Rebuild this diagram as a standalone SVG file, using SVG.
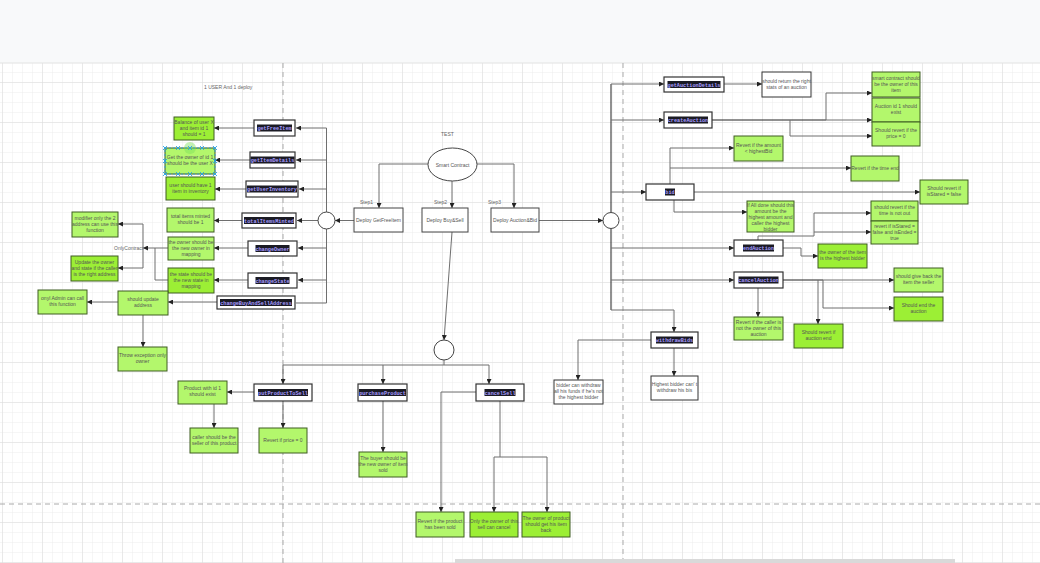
<svg xmlns="http://www.w3.org/2000/svg" width="1040" height="563" viewBox="0 0 1040 563">
<defs>
<pattern id="gmin" width="10" height="10" patternUnits="userSpaceOnUse" x="3" y="3"><path d="M10,0 V10 M0,10 H10" fill="none" stroke="#ececec" stroke-width="1"/></pattern>
<pattern id="gmaj" width="40" height="40" patternUnits="userSpaceOnUse" x="3" y="3"><path d="M40,0 V40 M0,40 H40" fill="none" stroke="#dcdcdc" stroke-width="1"/></pattern>
<marker id="arr" viewBox="0 0 6 6" refX="6" refY="3" markerWidth="5" markerHeight="5" markerUnits="userSpaceOnUse" orient="auto"><path d="M0,0 L6,3 L0,6 z" fill="#222"/></marker>
<style>
.fn{fill:#fff;stroke:#333;stroke-width:1.2}
.cbg{fill:#1b1b24}
.ct{font-family:"Liberation Mono","DejaVu Sans Mono",monospace;font-weight:bold;font-size:5.2px;fill:#a79cff;text-anchor:middle}
.nl{fill:#b3f76c;stroke:#3f5d22;stroke-width:1}
.nb{fill:#9cef35;stroke:#3f5d22;stroke-width:1}
.nw{fill:#fff;stroke:#333;stroke-width:1}
.nt{font-family:"Liberation Sans",Arial,sans-serif;font-size:5px;fill:#555;text-anchor:middle}
.lb{font-family:"Liberation Sans",Arial,sans-serif;font-size:5px;fill:#666}
.c{fill:none;stroke:#6e6e6e;stroke-width:1}
.ca{fill:none;stroke:#6e6e6e;stroke-width:1;marker-end:url(#arr)}
.cd{fill:none;stroke:#222;stroke-width:1}
.sh{fill:#fff;stroke:#444;stroke-width:1}
.pg{fill:none;stroke:#aaa;stroke-width:1;stroke-dasharray:5,4}
</style>
</defs>
<rect x="0" y="0" width="1040" height="563" fill="#fff"/>
<rect x="0" y="0" width="1040" height="63" fill="#f8f9fa"/>
<rect x="0" y="63" width="1040" height="500" fill="url(#gmin)"/>
<rect x="0" y="63" width="1040" height="500" fill="url(#gmaj)"/>
<line x1="0" y1="63" x2="1040" y2="63" stroke="#e2e2e2"/>
<path class="pg" d="M283,63 V563 M623,63 V563 M0,504 H1040"/>
<rect x="455" y="559" width="500" height="4" fill="#d9d9d9"/>

<text class="lb" x="204" y="89" fill="#777">1 USER  And 1 deploy</text>
<text class="lb" x="441" y="136">TEST</text>
<text class="lb" x="360" y="204">Step1</text>
<text class="lb" x="434" y="204">Step2</text>
<text class="lb" x="488" y="204">Step3</text>
<text class="lb" x="114" y="250">OnlyContract</text>

<g id="connectors">
<path class="ca" d="M428,164 H379 V208"/>
<path class="ca" d="M452,181 V208"/>
<path class="ca" d="M477,164 H514 V208"/>
<path class="ca" d="M354,220.5 H335"/>
<path class="c" d="M326.5,212 V128 M326.5,229 V303 H296"/>
<path class="ca" d="M326.5,128 H296"/>
<path class="ca" d="M326.5,160 H296"/>
<path class="ca" d="M326.5,189 H299"/>
<path class="ca" d="M318,220.5 H297"/>
<path class="ca" d="M326.5,248 H298"/>
<path class="ca" d="M326.5,280 H298"/>
<path class="ca" d="M254,128 H214"/>
<path class="ca" d="M250,160 H215"/>
<path class="ca" d="M246,189 H215"/>
<path class="ca" d="M242,220.5 H214"/>
<path class="ca" d="M248,248 H214"/>
<path class="ca" d="M248,280 H214"/>
<path class="ca" d="M217,302 H168"/>
<path class="ca" d="M168,248 H143"/>
<path class="c" d="M168,280 H155 V248"/>
<path class="ca" d="M143,248 V224 H118"/>
<path class="ca" d="M143,248 V268 H118"/>
<path class="ca" d="M118,302 H87"/>
<path class="ca" d="M143,315 V347"/>
<path class="ca" d="M452,232 L444,340"/>
<path class="c" d="M444,360 V365 H283 M444,365 H489"/>
<path class="ca" d="M283,365 V384"/>
<path class="ca" d="M383,365 V384"/>
<path class="ca" d="M489,365 V384"/>
<path class="ca" d="M254,392 H227"/>
<path class="ca" d="M214,404 V428"/>
<path class="ca" d="M283,401 V428"/>
<path class="ca" d="M383,401 V452"/>
<path class="ca" d="M476,392 H441 V512"/>
<path class="c" d="M500,401 V457"/>
<path class="ca" d="M500,457 H494 V512"/>
<path class="ca" d="M500,457 H547 V512"/>
<path class="ca" d="M539,220.5 H603"/>
<path class="cd" d="M611,84 V212 M611,229 V310"/>
<path class="ca" d="M611,310 H674 V332"/>
<path class="ca" d="M611,84 H664"/>
<path class="ca" d="M611,120 H664"/>
<path class="ca" d="M611,192 H646"/>
<path class="ca" d="M611,248 H734"/>
<path class="ca" d="M611,280 H734"/>
<path class="ca" d="M724,84 H762"/>
<path class="cd" d="M712,120 H826"/>
<path class="ca" d="M826,120 H872"/>
<path class="ca" d="M826,120 V93 H872"/>
<path class="ca" d="M790,120 V136 H872"/>
<path class="ca" d="M670,184 V148 H734"/>
<path class="ca" d="M670,168 H851"/>
<path class="ca" d="M694,192 H920"/>
<path class="ca" d="M674,200 V212 H747"/>
<path class="ca" d="M758,240 V236 H814 V232 H871"/>
<path class="ca" d="M814,232 V213 H871"/>
<path class="ca" d="M783,248 H801 V256 H818"/>
<path class="cd" d="M783,280 H823"/>
<path class="ca" d="M823,280 H894"/>
<path class="ca" d="M818,280 V324"/>
<path class="ca" d="M823,280 V308 H894"/>
<path class="ca" d="M758,288 V317"/>
<path class="ca" d="M651,340 H578 V380"/>
<path class="ca" d="M674,348 V376"/>
</g>

<g id="smart-contract"><ellipse class="sh" cx="452.5" cy="164.5" rx="24.5" ry="16.5"/><text class="nt" x="452.5" y="166.5" fill="#555">Smart Contract</text></g>
<g id="deploy-getfreeitem"><rect class="sh" x="354" y="208" width="49" height="24"/><text class="nt" x="378.5" y="222">Deploy GetFreeItem</text></g>
<g id="deploy-buysell"><rect class="sh" x="422" y="208" width="46" height="24"/><text class="nt" x="445" y="222">Deploy Buy&amp;Sell</text></g>
<g id="deploy-auctionbid"><rect class="sh" x="491" y="208" width="48" height="24"/><text class="nt" x="515" y="222">Deploy Auction&amp;Bid</text></g>
<g id="hub-left"><circle class="sh" cx="326.5" cy="220.5" r="8.5"/></g>
<g id="hub-center"><circle class="sh" cx="444" cy="350" r="10"/></g>
<g id="hub-right"><circle class="sh" cx="611" cy="220.5" r="8"/></g>

<g id="fn-getFreeItem"><rect class="fn" x="254" y="120" width="41" height="16"/><rect class="cbg" x="257" y="124.5" width="35" height="7"/><text class="ct" x="274.5" y="130">getFreeItem</text></g>
<g id="fn-getItemDetails"><rect class="fn" x="250" y="152" width="45" height="16"/><rect class="cbg" x="250.5" y="156.5" width="44" height="7"/><text class="ct" x="272.5" y="162">getItemDetails</text></g>
<g id="fn-getUserInventory"><rect class="fn" x="246" y="181" width="52" height="16"/><rect class="cbg" x="247" y="185.5" width="50" height="7"/><text class="ct" x="272" y="191">getUserInventory</text></g>
<g id="fn-totalItemsMinted"><rect class="fn" x="242" y="213" width="54" height="15"/><rect class="cbg" x="244" y="217" width="50" height="7"/><text class="ct" x="269" y="222.5">totalItemsMinted</text></g>
<g id="fn-changeOwner"><rect class="fn" x="248" y="241" width="49" height="15"/><rect class="cbg" x="255.5" y="245" width="34" height="7"/><text class="ct" x="272.5" y="250.5">changeOwner</text></g>
<g id="fn-changeState"><rect class="fn" x="248" y="273" width="49" height="15"/><rect class="cbg" x="255.5" y="277" width="34" height="7"/><text class="ct" x="272.5" y="282.5">changeState</text></g>
<g id="fn-changeBuyAndSellAddress"><rect class="fn" x="217" y="296" width="78" height="13"/><rect class="cbg" x="220" y="299" width="72" height="7"/><text class="ct" x="256" y="304.5">changeBuyAndSellAddress</text></g>
<g id="fn-putProductToSell"><rect class="fn" x="254" y="384" width="58" height="17"/><rect class="cbg" x="258" y="389" width="50" height="7"/><text class="ct" x="283" y="394.5">putProductToSell</text></g>
<g id="fn-purchaseProduct"><rect class="fn" x="358" y="384" width="49" height="17"/><rect class="cbg" x="359" y="389" width="47" height="7"/><text class="ct" x="382.5" y="394.5">purchaseProduct</text></g>
<g id="fn-cancelSell"><rect class="fn" x="476" y="384" width="48" height="17"/><rect class="cbg" x="484.5" y="389" width="31" height="7"/><text class="ct" x="500" y="394.5">cancelSell</text></g>
<g id="fn-getAuctionDetails"><rect class="fn" x="664" y="77" width="60" height="15"/><rect class="cbg" x="667.5" y="81" width="53" height="7"/><text class="ct" x="694" y="86.5">getAuctionDetails</text></g>
<g id="fn-createAuction"><rect class="fn" x="664" y="112" width="48" height="16"/><rect class="cbg" x="668" y="116.5" width="40" height="7"/><text class="ct" x="688" y="122">createAuction</text></g>
<g id="fn-bid"><rect class="fn" x="646" y="184" width="48" height="16"/><rect class="cbg" x="665" y="188.5" width="10" height="7"/><text class="ct" x="670" y="194">bid</text></g>
<g id="fn-endAuction"><rect class="fn" x="734" y="240" width="49" height="16"/><rect class="cbg" x="743" y="244.5" width="31" height="7"/><text class="ct" x="758.5" y="250">endAuction</text></g>
<g id="fn-cancelAuction"><rect class="fn" x="734" y="272" width="49" height="16"/><rect class="cbg" x="738.5" y="276.5" width="40" height="7"/><text class="ct" x="758.5" y="282">cancelAuction</text></g>
<g id="fn-withdrawBids"><rect class="fn" x="651" y="332" width="47" height="16"/><rect class="cbg" x="656" y="336.5" width="37" height="7"/><text class="ct" x="674.5" y="342">withdrawBids</text></g>

<g id="n-balance"><rect class="nb" x="174" y="117" width="40" height="23"/><text class="nt" x="194" y="124"><tspan x="194">Balance of user X</tspan><tspan x="194" dy="6">and item id 1</tspan><tspan x="194" dy="6">should = 1</tspan></text></g>
<g id="n-getowner"><rect class="nl" x="165" y="148" width="50" height="26"/><circle cx="190" cy="148" r="6" fill="#7ce05a" opacity="0.45"/><rect x="165" y="148" width="50" height="26" fill="none" stroke="#29a3e6" stroke-width="0.8" stroke-dasharray="2,2"/><path d="M163,146 l4,4 m0,-4 l-4,4 M176,146 l4,4 m0,-4 l-4,4 M188,146 l4,4 m0,-4 l-4,4 M200,146 l4,4 m0,-4 l-4,4 M213,146 l4,4 m0,-4 l-4,4 M163,159 l4,4 m0,-4 l-4,4 M213,159 l4,4 m0,-4 l-4,4 M163,172 l4,4 m0,-4 l-4,4 M176,172 l4,4 m0,-4 l-4,4 M188,172 l4,4 m0,-4 l-4,4 M200,172 l4,4 m0,-4 l-4,4 M213,172 l4,4 m0,-4 l-4,4" stroke="#29a3e6" stroke-width="0.9" fill="none"/><text class="nt" x="190" y="159"><tspan x="190">Get  the owner of id 1</tspan><tspan x="190" dy="6">should be the user X</tspan></text></g>
<g id="n-inventory"><rect class="nb" x="166" y="177" width="49" height="23"/><text class="nt" x="190.5" y="187"><tspan x="190.5">user should have 1</tspan><tspan x="190.5" dy="6">item in inventory</tspan></text></g>
<g id="n-total"><rect class="nl" x="167" y="208" width="47" height="24"/><text class="nt" x="190.5" y="218"><tspan x="190.5">total items minted</tspan><tspan x="190.5" dy="6">should be 1</tspan></text></g>
<g id="n-owner"><rect class="nl" x="168" y="237" width="46" height="23"/><text class="nt" x="191" y="244"><tspan x="191">the owner should be</tspan><tspan x="191" dy="6">the new owner in</tspan><tspan x="191" dy="6">mapping</tspan></text></g>
<g id="n-state"><rect class="nb" x="168" y="268" width="46" height="25"/><text class="nt" x="191" y="276"><tspan x="191">the state should be</tspan><tspan x="191" dy="6">the new state in</tspan><tspan x="191" dy="6">mapping</tspan></text></g>
<g id="n-modifier"><rect class="nl" x="72" y="212" width="46" height="25"/><text class="nt" x="95" y="219.5"><tspan x="95">modifier only the 2</tspan><tspan x="95" dy="6">address can use this</tspan><tspan x="95" dy="6">function</tspan></text></g>
<g id="n-update"><rect class="nb" x="71" y="256" width="47" height="25"/><text class="nt" x="94.5" y="263.5"><tspan x="94.5">Update the owner</tspan><tspan x="94.5" dy="6">and state if the caller</tspan><tspan x="94.5" dy="6">is the right address</tspan></text></g>
<g id="n-shouldupdate"><rect class="nl" x="118" y="291" width="50" height="24"/><text class="nt" x="143" y="300.5"><tspan x="143">should update</tspan><tspan x="143" dy="6">address</tspan></text></g>
<g id="n-admin"><rect class="nl" x="38" y="290" width="49" height="24"/><text class="nt" x="62.5" y="299.5"><tspan x="62.5">onyl Admin can call</tspan><tspan x="62.5" dy="6">this function</tspan></text></g>
<g id="n-throw"><rect class="nl" x="118" y="347" width="49" height="24"/><text class="nt" x="142.5" y="356.5"><tspan x="142.5">Throw exception only</tspan><tspan x="142.5" dy="6">owner</tspan></text></g>
<g id="n-product"><rect class="nl" x="178" y="381" width="49" height="23"/><text class="nt" x="202.5" y="390"><tspan x="202.5">Product with id 1</tspan><tspan x="202.5" dy="6">should exist</tspan></text></g>
<g id="n-caller"><rect class="nl" x="190" y="428" width="48" height="25"/><text class="nt" x="214" y="438.5"><tspan x="214">caller should be the</tspan><tspan x="214" dy="6">seller of this product</tspan></text></g>
<g id="n-price"><rect class="nl" x="259" y="428" width="48" height="25"/><text class="nt" x="283" y="442">Revert if price = 0</text></g>
<g id="n-buyer"><rect class="nl" x="359" y="452" width="48" height="25"/><text class="nt" x="383" y="459.5"><tspan x="383">The buyer should be</tspan><tspan x="383" dy="6">the new owner of item</tspan><tspan x="383" dy="6">sold</tspan></text></g>
<g id="n-sold"><rect class="nl" x="416" y="512" width="48" height="25"/><text class="nt" x="440" y="522.5"><tspan x="440">Revert if the product</tspan><tspan x="440" dy="6">has been sold</tspan></text></g>
<g id="n-onlyowner"><rect class="nb" x="470" y="512" width="48" height="25"/><text class="nt" x="494" y="522.5"><tspan x="494">Only the owner of this</tspan><tspan x="494" dy="6">sell can cancel</tspan></text></g>
<g id="n-getback"><rect class="nb" x="522" y="512" width="48" height="25"/><text class="nt" x="546" y="519.5"><tspan x="546">The owner of product</tspan><tspan x="546" dy="6">should get his item</tspan><tspan x="546" dy="6">back</tspan></text></g>
<g id="n-stats"><rect class="nw" x="762" y="72" width="49" height="25"/><text class="nt" x="786.5" y="82.5"><tspan x="786.5">should return the right</tspan><tspan x="786.5" dy="6">stats of an auction</tspan></text></g>
<g id="n-smartowner"><rect class="nl" x="872" y="72" width="48" height="25"/><text class="nt" x="896" y="79.5"><tspan x="896">smart contract should</tspan><tspan x="896" dy="6">be the owner of this</tspan><tspan x="896" dy="6">item</tspan></text></g>
<g id="n-auctionid"><rect class="nl" x="872" y="98" width="48" height="24"/><text class="nt" x="896" y="108"><tspan x="896">Auction id 1 should</tspan><tspan x="896" dy="6">exist</tspan></text></g>
<g id="n-price0"><rect class="nl" x="872" y="122" width="48" height="24"/><text class="nt" x="896" y="132"><tspan x="896">Should revert if the</tspan><tspan x="896" dy="6">price = 0</tspan></text></g>
<g id="n-amount"><rect class="nl" x="734" y="136" width="49" height="25"/><text class="nt" x="758.5" y="146.5"><tspan x="758.5">Revert if the amount</tspan><tspan x="758.5" dy="6">&lt; highestBid</tspan></text></g>
<g id="n-timeend"><rect class="nl" x="851" y="156" width="48" height="25"/><text class="nt" x="875" y="170">Revert if the time end</text></g>
<g id="n-isstared"><rect class="nl" x="920" y="180" width="48" height="24"/><text class="nt" x="944" y="190"><tspan x="944">Should revert if</tspan><tspan x="944" dy="6">isStared = false</tspan></text></g>
<g id="n-alldone"><rect class="nl" x="747" y="201" width="47" height="31"/><text class="nt" x="770.5" y="206.5"><tspan x="770.5">If All done should this</tspan><tspan x="770.5" dy="6">amount be the</tspan><tspan x="770.5" dy="6">highest amount and</tspan><tspan x="770.5" dy="6">caller the highest</tspan><tspan x="770.5" dy="6">bidder</tspan></text></g>
<g id="n-timenotout"><rect class="nl" x="871" y="201" width="47" height="20"/><text class="nt" x="894.5" y="209"><tspan x="894.5">should revert if the</tspan><tspan x="894.5" dy="6">time is not out</tspan></text></g>
<g id="n-isended"><rect class="nl" x="871" y="221" width="47" height="23"/><text class="nt" x="894.5" y="228"><tspan x="894.5">revert if isStared =</tspan><tspan x="894.5" dy="6">false and isEnded =</tspan><tspan x="894.5" dy="6">true</tspan></text></g>
<g id="n-highestbidder"><rect class="nb" x="818" y="244" width="49" height="24"/><text class="nt" x="842.5" y="254"><tspan x="842.5">the owner of the item</tspan><tspan x="842.5" dy="6">is the highest bidder</tspan></text></g>
<g id="n-giveback"><rect class="nl" x="894" y="268" width="49" height="24"/><text class="nt" x="918.5" y="278"><tspan x="918.5">should give back the</tspan><tspan x="918.5" dy="6">item the seller</tspan></text></g>
<g id="n-endauction"><rect class="nb" x="894" y="297" width="49" height="24"/><text class="nt" x="918.5" y="307"><tspan x="918.5">Should end the</tspan><tspan x="918.5" dy="6">auction</tspan></text></g>
<g id="n-notowner"><rect class="nl" x="734" y="317" width="49" height="23"/><text class="nt" x="758.5" y="324"><tspan x="758.5">Revert if the caller is</tspan><tspan x="758.5" dy="6">not the owner of this</tspan><tspan x="758.5" dy="6">auction</tspan></text></g>
<g id="n-auctionend"><rect class="nb" x="794" y="324" width="49" height="24"/><text class="nt" x="818.5" y="334"><tspan x="818.5">Should revert if</tspan><tspan x="818.5" dy="6">auction end</tspan></text></g>
<g id="n-withdraw"><rect class="nw" x="554" y="380" width="49" height="24"/><text class="nt" x="578.5" y="387"><tspan x="578.5">bidder can withdraw</tspan><tspan x="578.5" dy="6">all his funds if he's not</tspan><tspan x="578.5" dy="6">the highest bidder</tspan></text></g>
<g id="n-highestcant"><rect class="nw" x="651" y="376" width="47" height="24"/><text class="nt" x="674.5" y="386"><tspan x="674.5">Highest bidder can' t</tspan><tspan x="674.5" dy="6">withdraw his bis</tspan></text></g>
</svg>
